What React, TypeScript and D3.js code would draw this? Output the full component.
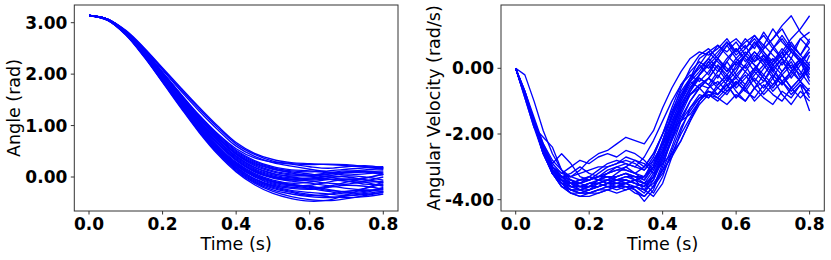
import React from "react";
import * as d3 from "d3";

// ---- data ----
const angleTimes = d3.range(0, 17).map((i) => i * 0.05);
const angleSeries: number[][] = [
  [3.14, 3.05, 2.76, 2.33, 1.84, 1.34, 0.86, 0.44, 0.10, -0.15, -0.32, -0.42, -0.47, -0.45, -0.35, -0.22, -0.10],
  [3.14, 3.05, 2.77, 2.35, 1.86, 1.37, 0.90, 0.48, 0.14, -0.10, -0.25, -0.33, -0.38, -0.40, -0.37, -0.32, -0.28],
  [3.14, 3.06, 2.78, 2.37, 1.89, 1.40, 0.93, 0.52, 0.19, -0.04, -0.18, -0.26, -0.30, -0.33, -0.36, -0.34, -0.30],
  [3.14, 3.06, 2.79, 2.39, 1.92, 1.44, 0.97, 0.57, 0.24, 0.02, -0.10, -0.15, -0.18, -0.24, -0.30, -0.28, -0.20],
  [3.14, 3.06, 2.80, 2.40, 1.94, 1.47, 1.01, 0.61, 0.29, 0.07, -0.06, -0.12, -0.10, -0.05, -0.04, -0.10, -0.18],
  [3.14, 3.06, 2.80, 2.42, 1.96, 1.50, 1.05, 0.66, 0.34, 0.12, 0.00, -0.05, -0.08, -0.12, -0.14, -0.08, 0.00],
  [3.14, 3.07, 2.81, 2.43, 1.98, 1.53, 1.09, 0.71, 0.40, 0.18, 0.06, 0.02, 0.03, 0.06, 0.10, 0.12, 0.08],
  [3.14, 3.07, 2.82, 2.45, 2.01, 1.57, 1.14, 0.77, 0.46, 0.26, 0.15, 0.10, 0.06, 0.00, -0.05, -0.02, 0.05],
  [3.14, 3.07, 2.83, 2.47, 2.04, 1.61, 1.20, 0.84, 0.55, 0.37, 0.29, 0.25, 0.20, 0.17, 0.20, 0.22, 0.18],
  [3.14, 3.07, 2.84, 2.50, 2.10, 1.70, 1.32, 0.96, 0.64, 0.44, 0.31, 0.26, 0.24, 0.25, 0.24, 0.20, 0.15],
  [3.14, 3.06, 2.79, 2.38, 1.90, 1.42, 0.95, 0.54, 0.22, 0.00, -0.14, -0.20, -0.22, -0.18, -0.10, -0.02, 0.05],
  [3.14, 3.06, 2.78, 2.36, 1.88, 1.39, 0.92, 0.50, 0.17, -0.06, -0.20, -0.28, -0.34, -0.38, -0.40, -0.38, -0.33],
  [3.14, 3.06, 2.80, 2.41, 1.95, 1.48, 1.03, 0.64, 0.32, 0.10, -0.02, -0.08, -0.12, -0.17, -0.22, -0.25, -0.25],
  [3.14, 3.07, 2.82, 2.44, 2.00, 1.55, 1.12, 0.75, 0.44, 0.22, 0.10, 0.04, 0.02, 0.05, 0.10, 0.14, 0.16],
  [3.14, 3.07, 2.81, 2.44, 1.99, 1.54, 1.10, 0.72, 0.41, 0.19, 0.07, 0.00, -0.04, -0.02, 0.02, 0.00, -0.06],
  [3.14, 3.06, 2.79, 2.39, 1.91, 1.43, 0.96, 0.55, 0.23, 0.01, -0.12, -0.17, -0.16, -0.10, -0.04, -0.06, -0.12],
  [3.14, 3.07, 2.83, 2.46, 2.03, 1.59, 1.17, 0.80, 0.50, 0.30, 0.18, 0.12, 0.10, 0.12, 0.15, 0.18, 0.20],
  [3.14, 3.05, 2.77, 2.34, 1.85, 1.36, 0.88, 0.46, 0.12, -0.12, -0.28, -0.38, -0.44, -0.46, -0.42, -0.36, -0.30],
  [3.14, 3.06, 2.80, 2.41, 1.95, 1.49, 1.04, 0.65, 0.33, 0.11, -0.01, -0.06, -0.04, 0.02, 0.08, 0.10, 0.06],
  [3.14, 3.07, 2.82, 2.45, 2.02, 1.58, 1.15, 0.78, 0.48, 0.28, 0.16, 0.08, 0.02, -0.04, -0.08, -0.10, -0.08],
  [3.14, 3.06, 2.79, 2.40, 1.93, 1.45, 0.99, 0.59, 0.27, 0.05, -0.08, -0.14, -0.20, -0.26, -0.28, -0.22, -0.14],
  [3.14, 3.06, 2.78, 2.37, 1.89, 1.41, 0.94, 0.53, 0.20, -0.03, -0.16, -0.22, -0.24, -0.20, -0.16, -0.18, -0.24],
  [3.14, 3.07, 2.81, 2.43, 1.97, 1.52, 1.08, 0.70, 0.38, 0.16, 0.04, -0.02, -0.02, 0.02, 0.00, -0.05, -0.10],
  [3.14, 3.07, 2.84, 2.49, 2.08, 1.67, 1.28, 0.92, 0.60, 0.40, 0.28, 0.21, 0.15, 0.10, 0.08, 0.10, 0.12],
  [3.14, 3.07, 2.85, 2.51, 2.12, 1.73, 1.35, 0.99, 0.67, 0.46, 0.34, 0.28, 0.26, 0.24, 0.22, 0.20, 0.18],
  [3.14, 3.06, 2.79, 2.39, 1.92, 1.44, 0.98, 0.58, 0.26, 0.04, -0.09, -0.16, -0.22, -0.28, -0.33, -0.30, -0.22],
  [3.14, 3.07, 2.82, 2.45, 2.01, 1.57, 1.14, 0.76, 0.45, 0.24, 0.12, 0.06, 0.04, 0.08, 0.12, 0.10, 0.04],
  [3.14, 3.06, 2.80, 2.42, 1.97, 1.51, 1.06, 0.67, 0.36, 0.14, 0.02, -0.04, -0.06, -0.04, -0.08, -0.14, -0.16],
  [3.14, 3.05, 2.77, 2.35, 1.87, 1.38, 0.91, 0.49, 0.16, -0.08, -0.22, -0.30, -0.36, -0.34, -0.28, -0.26, -0.28],
  [3.14, 3.07, 2.83, 2.46, 2.03, 1.60, 1.18, 0.82, 0.52, 0.32, 0.20, 0.14, 0.12, 0.08, 0.04, 0.06, 0.10],
];

const velTimes = d3.range(0, 33).map((i) => i * 0.025);
const velSeries: number[][] = [
  [0, -0.7, -1.5, -2.3, -2.9, -3.2, -3.3, -3.1, -2.8, -2.6, -2.5, -2.3, -2.1, -2.2, -2.3, -1.9, -1.2, -0.6, -0.1, 0.3, 0.5, 0.4, 0.6, 0.9, 0.5, 0.8, 1.0, 0.6, 0.9, 1.2, 0.7, 0.4, 0.8],
  [0, -0.2, -1.0, -1.9, -2.6, -3.1, -3.4, -3.6, -3.7, -3.6, -3.5, -3.5, -3.4, -3.5, -3.6, -3.3, -2.6, -1.8, -1.1, -0.6, -0.3, -0.5, -0.1, 0.2, -0.2, 0.1, -0.4, 0.0, 0.3, -0.1, 0.2, -0.3, 0.1],
  [0, -0.9, -1.8, -2.1, -2.4, -3.1, -3.5, -3.7, -3.8, -3.8, -3.7, -3.6, -3.6, -3.7, -3.9, -3.6, -2.9, -2.2, -1.4, -0.8, -0.5, -0.6, -0.2, -0.5, -0.9, -0.5, -0.1, -0.4, 0.1, -0.2, -0.6, -0.3, 0.2],
  [0, -0.8, -1.7, -2.6, -3.2, -3.5, -3.7, -3.8, -3.8, -3.7, -3.6, -3.6, -3.5, -3.7, -4.05, -3.7, -3.0, -2.1, -1.3, -0.7, -0.2, 0.1, -0.3, 0.2, 0.6, 0.3, -0.1, 0.4, 0.1, 0.5, 0.0, 0.3, -0.2],
  [0, -0.7, -1.6, -2.4, -2.9, -2.6, -2.9, -3.3, -3.4, -3.3, -3.1, -3.0, -3.1, -3.2, -3.0, -2.6, -2.0, -1.5, -0.9, -0.4, -0.1, 0.3, 0.0, -0.4, -0.1, 0.4, 0.8, 0.5, 0.2, 0.6, 0.3, 0.9, 1.1],
  [0, -0.8, -1.7, -2.5, -3.1, -3.4, -3.5, -3.4, -3.3, -3.4, -3.4, -3.3, -3.2, -3.3, -3.5, -3.8, -3.3, -2.5, -1.8, -1.3, -0.9, -0.7, -0.8, -0.5, -0.9, -0.6, -1.0, -0.7, -0.3, -0.8, -1.1, -0.7, -1.0],
  [0, -0.8, -1.7, -2.5, -3.2, -3.6, -3.8, -3.9, -3.9, -3.8, -3.7, -3.6, -3.5, -3.4, -3.3, -2.8, -2.3, -1.9, -1.6, -1.4, -1.0, -0.7, -0.8, -0.5, -0.3, -0.6, -0.2, 0.1, -0.3, 0.2, -0.1, 0.3, 0.0],
  [0, -0.9, -1.8, -2.6, -3.1, -3.3, -3.4, -3.5, -3.6, -3.6, -3.5, -3.4, -3.3, -3.3, -3.4, -3.0, -2.2, -1.4, -0.6, 0.0, 0.4, 0.6, 0.3, 0.7, 0.9, 0.6, 1.0, 0.7, 1.2, 0.8, 0.5, 0.9, 0.6],
  [0, -0.8, -1.6, -2.4, -3.0, -3.4, -3.6, -3.7, -3.6, -3.5, -3.4, -3.2, -3.0, -2.8, -2.9, -3.2, -2.9, -2.6, -2.2, -1.6, -1.1, -0.8, -0.9, -0.6, -0.2, -0.5, 0.0, -0.3, -0.7, -0.4, -0.8, -0.5, -1.3],
  [0, -0.8, -1.7, -2.5, -3.1, -3.5, -3.7, -3.7, -3.6, -3.4, -3.3, -3.3, -3.2, -3.3, -3.3, -3.0, -2.4, -1.6, -1.0, -0.5, -0.2, 0.2, 0.5, 0.8, 0.4, 0.7, 0.2, 0.6, 0.9, 1.3, 1.6, 1.1, 0.8],
  [0, -0.8, -1.7, -2.5, -3.0, -3.3, -3.5, -3.6, -3.6, -3.5, -3.6, -3.7, -3.6, -3.6, -3.7, -3.3, -2.7, -2.0, -1.3, -0.7, -0.3, -0.5, -0.8, -0.4, 0.1, 0.4, 0.1, -0.2, 0.2, 0.5, 0.9, 1.2, 1.6],
  [0, -0.8, -1.7, -2.5, -3.1, -3.5, -3.8, -3.9, -3.8, -3.7, -3.7, -3.8, -3.7, -3.6, -3.7, -3.5, -3.1, -2.7, -2.2, -1.6, -1.0, -0.7, -0.9, -1.1, -0.8, -1.0, -0.6, -0.9, -1.1, -0.7, -0.9, -0.5, -0.8],
  [0, -0.7, -1.6, -2.4, -3.0, -3.3, -3.2, -3.0, -3.2, -3.3, -3.2, -3.0, -2.9, -3.0, -3.1, -2.7, -2.0, -1.2, -0.5, -0.1, 0.2, 0.0, 0.3, -0.1, 0.2, 0.5, 0.2, 0.4, -0.1, 0.3, 0.0, -0.4, 0.0],
  [0, -0.8, -1.7, -2.5, -3.2, -3.6, -3.8, -3.8, -3.7, -3.6, -3.5, -3.4, -3.4, -3.5, -3.6, -3.4, -2.8, -2.1, -1.5, -1.0, -0.6, -0.3, 0.1, -0.3, 0.0, 0.4, 0.1, -0.3, -0.6, -0.2, 0.1, -0.2, 0.4],
  [0, -0.8, -1.7, -2.5, -3.0, -3.3, -3.5, -3.6, -3.5, -3.4, -3.3, -3.4, -3.5, -3.4, -3.3, -3.0, -2.5, -1.8, -1.2, -0.8, -0.5, -0.3, -0.5, -0.2, 0.2, -0.1, 0.3, 0.7, 0.4, 0.1, 0.5, 0.2, -0.4],
  [0, -0.8, -1.6, -2.4, -3.0, -3.3, -3.6, -3.7, -3.7, -3.6, -3.5, -3.3, -3.2, -3.4, -3.7, -3.9, -3.5, -2.7, -1.9, -1.2, -0.8, -0.9, -0.6, -0.8, -0.4, -0.7, -0.3, -0.6, -0.2, -0.5, -0.1, -0.4, -0.9],
  [0, -0.8, -1.7, -2.6, -3.2, -3.5, -3.6, -3.6, -3.5, -3.5, -3.4, -3.4, -3.3, -3.4, -3.5, -3.1, -2.5, -1.7, -0.9, -0.3, 0.3, 0.5, 0.7, 0.4, 0.1, 0.4, 0.8, 0.4, 0.0, 0.3, -0.3, 0.1, 0.5],
  [0, -0.8, -1.7, -2.5, -3.2, -3.5, -3.5, -3.4, -3.3, -3.4, -3.5, -3.6, -3.7, -3.6, -3.5, -3.3, -2.8, -2.2, -1.6, -1.2, -0.9, -0.8, -1.0, -0.7, -0.4, -0.7, -0.9, -0.5, -0.8, -1.0, -0.6, -0.9, -0.6],
  [0, -0.8, -1.7, -2.5, -3.1, -3.4, -3.7, -3.8, -3.8, -3.7, -3.6, -3.5, -3.5, -3.6, -3.8, -3.4, -2.7, -1.9, -1.2, -0.6, -0.2, 0.1, 0.4, 0.8, 0.5, 0.9, 0.6, 1.1, 0.7, 0.3, 0.6, 0.2, 0.5],
  [0, -0.8, -1.6, -2.3, -2.8, -3.1, -3.3, -3.4, -3.4, -3.3, -3.2, -3.1, -3.1, -3.2, -3.3, -2.9, -2.2, -1.4, -0.8, -0.4, -0.6, -0.3, 0.1, -0.2, -0.6, -0.3, 0.0, 0.3, -0.1, -0.4, -0.1, 0.2, -0.1],
  [0, -0.8, -1.7, -2.5, -3.0, -3.2, -3.0, -2.8, -2.9, -2.7, -2.6, -2.7, -2.5, -2.6, -2.8, -3.1, -2.6, -1.9, -1.0, -0.4, 0.1, -0.2, 0.3, 0.7, 0.3, 0.0, 0.4, 0.1, 0.6, 0.9, 0.5, 0.2, 0.6],
  [0, -0.8, -1.7, -2.6, -3.2, -3.5, -3.6, -3.5, -3.3, -3.1, -2.9, -2.8, -2.9, -3.0, -2.7, -2.2, -1.6, -1.0, -0.5, -0.2, -0.4, -0.1, 0.3, 0.0, -0.3, 0.1, 0.5, 0.2, -0.2, -0.5, -0.2, 0.2, -0.3],
  [0, -0.8, -1.7, -2.5, -3.1, -3.5, -3.7, -3.8, -3.7, -3.5, -3.4, -3.5, -3.6, -3.8, -3.9, -3.6, -3.1, -2.4, -1.6, -1.0, -0.6, -0.3, -0.6, -0.3, -0.7, -1.0, -0.6, -0.2, -0.5, -0.1, 0.3, -0.1, -0.5],
  [0, -0.8, -1.7, -2.5, -3.0, -3.3, -3.4, -3.5, -3.4, -3.2, -3.0, -2.9, -2.7, -2.8, -3.0, -2.6, -2.0, -1.3, -0.7, -0.3, 0.1, 0.5, 0.2, -0.1, 0.3, 0.6, 0.9, 0.5, 0.1, 0.4, 0.8, 0.4, 0.1],
  [0, -0.8, -1.7, -2.5, -3.1, -3.4, -3.6, -3.6, -3.5, -3.5, -3.6, -3.6, -3.5, -3.4, -3.5, -3.6, -3.2, -2.6, -2.0, -1.5, -1.0, -0.6, -0.4, -0.7, -0.5, -0.1, -0.4, -0.8, -0.5, -0.2, -0.6, -0.3, 0.0],
  [0, -0.8, -1.7, -2.5, -3.2, -3.6, -3.7, -3.7, -3.6, -3.4, -3.2, -3.1, -3.0, -3.2, -3.4, -3.0, -2.3, -1.5, -0.8, -0.3, 0.0, 0.3, 0.7, 0.5, 0.8, 0.4, 0.7, 1.0, 0.6, 0.3, 0.7, 0.4, 0.9],
  [0, -0.8, -1.7, -2.5, -3.1, -3.4, -3.5, -3.5, -3.4, -3.3, -3.3, -3.4, -3.4, -3.5, -3.6, -3.2, -2.6, -1.9, -1.2, -0.8, -0.6, -0.9, -0.5, -0.2, -0.5, -0.2, -0.6, -0.4, 0.0, -0.4, -0.7, -0.4, -0.7],
  [0, -0.8, -1.7, -2.5, -3.1, -3.3, -3.3, -3.2, -3.1, -3.0, -3.0, -2.9, -2.8, -2.9, -3.1, -2.8, -2.3, -1.7, -1.1, -0.6, -0.2, 0.2, -0.1, 0.3, 0.6, 0.2, 0.5, 0.2, 0.6, 1.0, 0.6, 0.3, 0.0],
];

const xTicks = [0, 0.2, 0.4, 0.6, 0.8];
const angleTicks = [0, 1, 2, 3];
const velTicks = [-4, -2, 0];
const xDomain: [number, number] = [-0.04, 0.84];
const angleDomain: [number, number] = [-0.661, 3.344];
const velDomain: [number, number] = [-4.344, 1.927];

const W = 831;
const H = 260;
const TOP = 5;
const BOTTOM = 211;
const FONT = "'DejaVu Sans', sans-serif";
const SPINE = "#333";

type PanelProps = {
  left: number;
  right: number;
  times: number[];
  series: number[][];
  yDomain: [number, number];
  yTicks: number[];
  yLabel: string;
  yLabelX: number;
  smooth: boolean;
};

function Panel(p: PanelProps) {
  const x = d3.scaleLinear().domain(xDomain).range([p.left, p.right]);
  const y = d3.scaleLinear().domain(p.yDomain).range([BOTTOM, TOP]);
  const line = d3
    .line<number>()
    .x((_, i) => x(p.times[i]))
    .y((d) => y(d))
    .curve(p.smooth ? d3.curveCatmullRom : d3.curveLinear);
  const cx = (p.left + p.right) / 2;
  const cy = (TOP + BOTTOM) / 2;
  return (
    <g>
      <defs>
        <clipPath id={`clip${Math.round(p.left)}`}>
          <rect x={p.left} y={TOP} width={p.right - p.left} height={BOTTOM - TOP} />
        </clipPath>
      </defs>
      <g clipPath={`url(#clip${Math.round(p.left)})`}>
        {p.series.map((s, i) => (
          <path key={i} d={line(s) || ""} fill="none" stroke="#0000ff" strokeWidth={1.35} strokeLinejoin="round" />
        ))}
      </g>
      <rect x={p.left} y={TOP} width={p.right - p.left} height={BOTTOM - TOP} fill="none" stroke={SPINE} strokeWidth={1} />
      {xTicks.map((t) => (
        <g key={`x${t}`}>
          <line x1={x(t)} x2={x(t)} y1={BOTTOM} y2={BOTTOM + 3.5} stroke={SPINE} />
          <text x={x(t)} y={230} textAnchor="middle" fontFamily={FONT} fontWeight="bold" fontSize={17} fill="#000">
            {d3.format(".1f")(t)}
          </text>
        </g>
      ))}
      {p.yTicks.map((t) => (
        <g key={`y${t}`}>
          <line x1={p.left - 3.5} x2={p.left} y1={y(t)} y2={y(t)} stroke={SPINE} />
          <text x={p.left - 7} y={y(t)} dy="0.36em" textAnchor="end" fontFamily={FONT} fontWeight="bold" fontSize={17} fill="#000">
            {d3.format(".2f")(t).replace("−", "-")}
          </text>
        </g>
      ))}
      <text x={cx} y={250} textAnchor="middle" fontFamily={FONT} fontSize={17.5} fill="#000">
        Time (s)
      </text>
      <text
        transform={`translate(${p.yLabelX},${cy}) rotate(-90)`}
        textAnchor="middle"
        fontFamily={FONT}
        fontSize={17.5}
        fill="#000"
      >
        {p.yLabel}
      </text>
    </g>
  );
}

export default function App() {
  return (
    <svg width={W} height={H} style={{ position: "absolute", left: 0, top: 0, background: "#fff" }}>
      <rect width={W} height={H} fill="#fff" />
      <Panel
        left={74.3}
        right={398}
        times={angleTimes}
        series={angleSeries}
        yDomain={angleDomain}
        yTicks={angleTicks}
        yLabel="Angle (rad)"
        yLabelX={19.5}
        smooth={true}
      />
      <Panel
        left={501}
        right={824.3}
        times={velTimes}
        series={velSeries}
        yDomain={velDomain}
        yTicks={velTicks}
        yLabel="Angular Velocity (rad/s)"
        yLabelX={440}
        smooth={false}
      />
    </svg>
  );
}
